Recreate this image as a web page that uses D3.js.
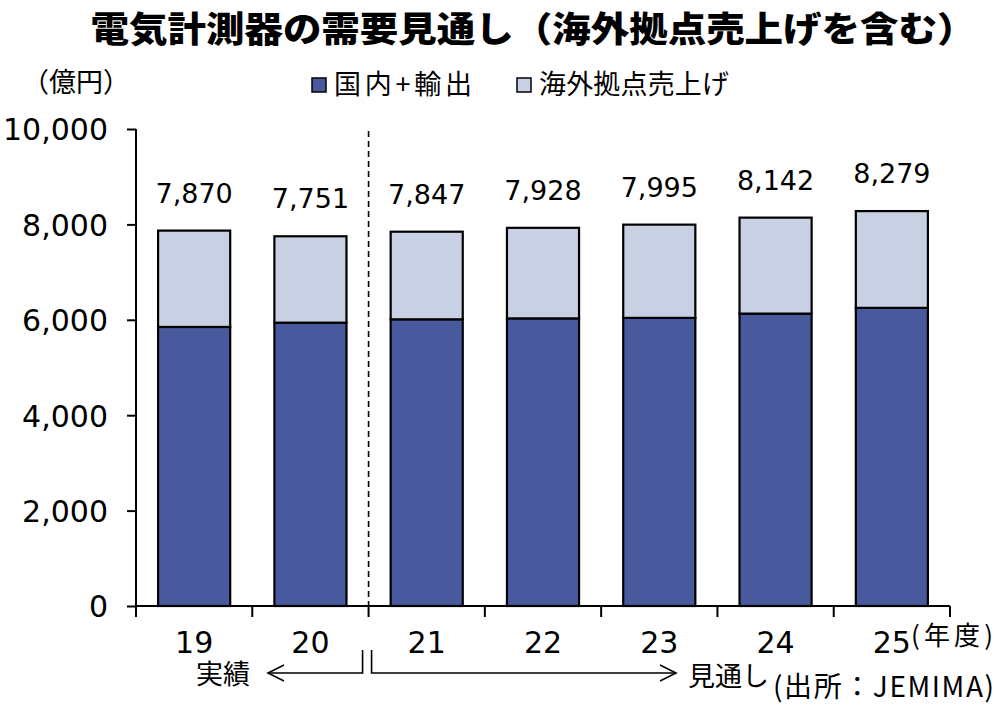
<!DOCTYPE html>
<html><head><meta charset="utf-8">
<script src="https://cdn.jsdelivr.net/npm/d3@7"></script>
<style>body{margin:0;background:#fff;} svg{display:block;}</style>
</head><body>
<script>
const categories = ["19","20","21","22","23","24","25"];
const domesticExport = [5850, 5940, 6010, 6030, 6040, 6130, 6250];
const overseasSales = [2020, 1811, 1837, 1898, 1955, 2012, 2029];
const totals = [7870, 7751, 7847, 7928, 7995, 8142, 8279];
const yTicks = [0, 2000, 4000, 6000, 8000, 10000];
const seriesNames = ["国内+輸出", "海外拠点売上げ"];
const colors = ["#485a9d", "#c8d0e4"];

const W = 1000, H = 705;
const jp = "'Noto Sans CJK JP', 'Noto Sans', sans-serif";
const num = "'DejaVu Sans', Verdana, sans-serif";
const svg = d3.select("body").append("svg").attr("width", W).attr("height", H);

const x = d3.scaleBand().domain(categories).range([136, 950]).paddingInner(0.38).paddingOuter(0.19);
const y = d3.scaleLinear().domain([0, 10000]).range([606, 129]);

// title
svg.append("text").attr("x", 533).attr("y", 42).attr("text-anchor", "middle")
  .attr("font-family", jp).attr("font-weight", 900).attr("font-size", 35)
  .attr("textLength", 885).attr("lengthAdjust", "spacingAndGlyphs")
  .text("電気計測器の需要見通し（海外拠点売上げを含む）");

// unit
svg.append("text").attr("x", 22).attr("y", 92).attr("font-family", jp).attr("font-size", 27)
  .text("（億円）");

// legend
const legendX = [312, 517];
const legendW = [138, 190];
seriesNames.forEach((n, i) => {
  svg.append("rect").attr("x", legendX[i]).attr("y", 78).attr("width", 14).attr("height", 14)
    .attr("fill", colors[i]).attr("stroke", "#000").attr("stroke-width", 1.5);
  svg.append("text").attr("x", legendX[i] + 22).attr("y", 94).attr("font-family", jp).attr("font-size", 27)
    .attr("textLength", legendW[i]).attr("lengthAdjust", "spacing")
    .text(n);
});

// stacked data
const rows = categories.map((c, i) => ({cat: c, a: domesticExport[i], b: overseasSales[i]}));
const stack = d3.stack().keys(["a", "b"])(rows);
stack.forEach((layer, li) => {
  svg.append("g").selectAll("rect").data(layer).join("rect")
    .attr("x", d => x(d.data.cat)).attr("width", x.bandwidth())
    .attr("y", d => y(d[1])).attr("height", d => y(d[0]) - y(d[1]))
    .attr("fill", colors[li]).attr("stroke", "#000").attr("stroke-width", 2.2);
});

// data labels
svg.append("g").selectAll("text").data(categories).join("text")
  .attr("x", (c) => x(c) + x.bandwidth() / 2)
  .attr("y", (c, i) => y(totals[i]) - 28)
  .attr("text-anchor", "middle").attr("font-family", num).attr("font-size", 27)
  .text((c, i) => d3.format(",")(totals[i]));

// y axis
const yAxis = svg.append("g").attr("transform", "translate(136,0)")
  .call(d3.axisLeft(y).tickValues(yTicks).tickFormat(d3.format(",")).tickSize(9).tickPadding(19));
yAxis.select(".domain").attr("stroke", "#000").attr("stroke-width", 2).attr("d", "M0," + y(10000) + "V" + y(0));
yAxis.selectAll(".tick line").attr("stroke", "#000").attr("stroke-width", 2);
yAxis.selectAll(".tick text").attr("font-family", num).attr("font-size", 30).attr("fill", "#000").attr("dy", "0.36em");

// x axis
const step = x.step();
const bounds = categories.map(c => x(c) - x.paddingInner() * step / 2);
bounds.push(x(categories[categories.length - 1]) + x.bandwidth() + x.paddingInner() * step / 2);
svg.append("line").attr("x1", 136).attr("x2", bounds[bounds.length - 1]).attr("y1", y(0)).attr("y2", y(0))
  .attr("stroke", "#000").attr("stroke-width", 2);
svg.append("g").selectAll("line").data(bounds).join("line")
  .attr("x1", d => d).attr("x2", d => d).attr("y1", y(0)).attr("y2", y(0) + 11)
  .attr("stroke", "#000").attr("stroke-width", 2);
svg.append("g").selectAll("text").data(categories).join("text")
  .attr("x", c => x(c) + x.bandwidth() / 2).attr("y", 653)
  .attr("text-anchor", "middle").attr("font-family", num).attr("font-size", 30).text(c => c);
svg.append("text").attr("x", 911).attr("y", 645).attr("font-family", jp).attr("font-size", 26)
  .attr("textLength", 82).attr("lengthAdjust", "spacing").text("(年度)");

// divider dashed line between actual and forecast
const divX = bounds[2];
svg.append("line").attr("x1", divX).attr("x2", divX).attr("y1", y(10000) + 2).attr("y2", y(0))
  .attr("stroke", "#000").attr("stroke-width", 1.6).attr("stroke-dasharray", "6,4");

// brackets & arrows
const ay = 673;
const br = svg.append("g").attr("fill", "none").attr("stroke", "#000").attr("stroke-width", 1.6);
br.append("path").attr("d", `M${divX - 6},650V${ay}H268`);
br.append("path").attr("d", `M284,${ay - 8}L268,${ay}L284,${ay + 8}`);
br.append("path").attr("d", `M${divX + 3},650V${ay}H676`);
br.append("path").attr("d", `M660,${ay - 8}L676,${ay}L660,${ay + 8}`);
svg.append("text").attr("x", 196).attr("y", 684).attr("font-family", jp).attr("font-size", 27).text("実績");
svg.append("text").attr("x", 688).attr("y", 686).attr("font-family", jp).attr("font-size", 27).text("見通し");
svg.append("text").attr("x", 773).attr("y", 697).attr("font-family", jp).attr("font-size", 28)
  .attr("textLength", 221).attr("lengthAdjust", "spacing").text("(出所：JEMIMA)");
</script>
</body></html>
